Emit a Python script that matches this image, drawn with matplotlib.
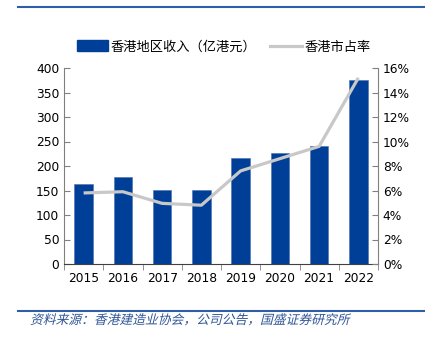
import numpy as np
import matplotlib
matplotlib.use("Agg")
import matplotlib.pyplot as plt
from matplotlib.lines import Line2D
from matplotlib.patches import Patch, PathPatch
from matplotlib.textpath import TextPath
from matplotlib.font_manager import FontProperties
from matplotlib.transforms import Affine2D

plt.rcParams['font.family'] = ['Noto Sans CJK SC', 'DejaVu Sans']

years = ["2015", "2016", "2017", "2018", "2019", "2020", "2021", "2022"]
revenue = [164, 178, 152, 151, 216, 226, 241, 375]
share = [5.8, 5.9, 4.95, 4.8, 7.6, 8.6, 9.6, 15.2]
bar_label = "香港地区收入（亿港元）"
line_label = "香港市占率"
source = "资料来源：香港建造业协会，公司公告，国盛证券研究所"

BLUE = "#003f98"
GRAY = "#c8c8c8"


def main():
    fig = plt.figure(figsize=(4.25, 3.42), dpi=100)
    ax = fig.add_axes([64 / 425, 1 - 264 / 342, 314 / 425, 196 / 342])
    x = np.arange(len(years))
    ax.bar(x, revenue, width=0.47, color=BLUE, edgecolor="#4a6fb0", linewidth=0.4, zorder=2)
    ax.set_xlim(-0.5, len(years) - 0.5)
    ax.set_ylim(0, 400)
    ax.set_yticks(range(0, 401, 50))
    ax.set_xticks(x)
    ax.set_xticklabels(years, fontfamily="DejaVu Sans")
    ax.set_xticks(np.arange(-0.5, len(years), 1), minor=True)
    ax.tick_params(axis="x", which="major", length=0, labelsize=8.8, pad=6)
    ax.tick_params(axis="x", which="minor", length=4, direction="out", color="#808080")
    ax.tick_params(axis="y", direction="in", length=4, color="#808080", labelsize=8.8)
    for lab in ax.get_yticklabels():
        lab.set_fontfamily("DejaVu Sans")
    ax.spines["top"].set_visible(False)
    ax.spines["right"].set_visible(False)
    ax.spines["left"].set_color("#808080")
    ax.spines["bottom"].set_color("#404040")

    ax2 = ax.twinx()
    ax2.plot(x, share, color=GRAY, linewidth=2.3, zorder=3, solid_capstyle="butt")
    ax2.set_ylim(0, 16)
    ax2.set_yticks(range(0, 17, 2))
    ax2.set_yticklabels([f"{v}%" for v in range(0, 17, 2)], fontfamily="DejaVu Sans")
    ax2.tick_params(axis="y", direction="in", length=4, color="#808080", labelsize=8.8)
    for s in ["top", "left", "bottom"]:
        ax2.spines[s].set_visible(False)
    ax2.spines["right"].set_color("#808080")

    handles = [Patch(facecolor=BLUE, edgecolor=BLUE),
               Line2D([0], [0], color=GRAY, linewidth=2.3)]
    fig.legend(handles, [bar_label, line_label], loc="center",
               bbox_to_anchor=(0.5 + 11 / 425, 1 - 47 / 342), ncol=2, frameon=False,
               fontsize=9.5, handlelength=2.4, handleheight=0.9,
               handletextpad=0.2, columnspacing=1.0)

    fig.add_artist(Line2D([18 / 425, 1], [1 - 7 / 342] * 2, color="#2f5fa8", linewidth=1.5))
    fig.add_artist(Line2D([18 / 425, 1], [1 - 311 / 342] * 2, color="#2f5fa8", linewidth=1.5))

    # source note, slanted by hand since the CJK font has no italic face
    tp = TextPath((0, 0), source, size=9.2, prop=FontProperties(family="Noto Sans CJK SC"))
    tr = (Affine2D().skew_deg(14, 0).scale(1 / 72)
          .translate(30 / 100, (342 - 324) / 100) + fig.dpi_scale_trans)
    fig.add_artist(PathPatch(tp, transform=tr, facecolor="#2f5597",
                             edgecolor="none"))

    fig.savefig("out.png", dpi=100)


if __name__ == "__main__":
    main()
